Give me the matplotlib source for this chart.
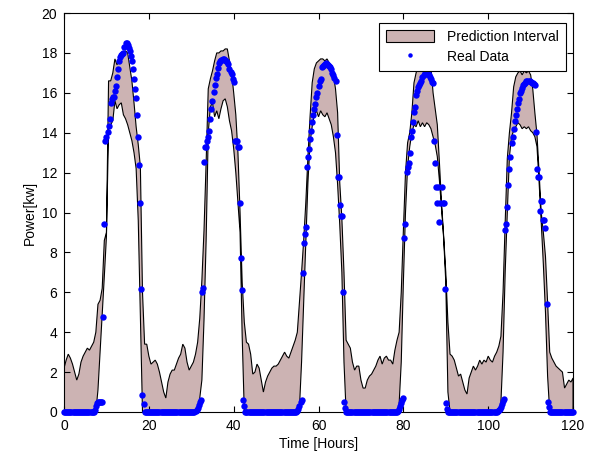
import numpy as np
import matplotlib
matplotlib.use("Agg")
import matplotlib.pyplot as plt

plt.rcParams['font.family'] = ['Liberation Sans', 'DejaVu Sans']
plt.rcParams['font.size'] = 10

# prediction interval, every half hour from 0 to 120 h
bound_hours = np.arange(0, 120.5, 0.5)
upper = [
    2.2, 2.6, 2.9, 2.7, 2.4, 2.0, 1.6, 1.9, 2.5, 2.8,
    3.0, 3.2, 3.1, 3.3, 3.5, 4.0, 5.4, 5.6, 6.2, 8.6,
    9.0, 16.6, 16.6, 17.0, 17.7, 17.4, 17.8, 17.9, 18.0, 18.1,
    18.0, 17.3, 16.6, 15.5, 14.3, 13.4, 12.3, 6.0, 3.4, 3.4,
    2.8, 2.4, 2.5, 2.6, 2.4, 2.0, 1.5, 1.0, 0.7, 1.5,
    1.9, 2.1, 2.1, 2.4, 2.7, 2.9, 3.4, 3.2, 2.5, 2.1,
    2.3, 2.5, 2.9, 3.5, 4.7, 6.6, 9.1, 12.5, 16.2, 16.7,
    17.1, 17.6, 18.0, 18.0, 18.1, 18.1, 18.2, 18.2, 17.6, 17.0,
    16.0, 14.9, 13.0, 10.0, 6.5, 4.5, 3.5, 3.4, 2.9, 1.9,
    2.0, 2.4, 2.2, 1.6, 1.0, 1.5, 1.8, 2.0, 2.2, 2.3,
    2.3, 2.4, 2.6, 2.8, 3.0, 2.8, 2.7, 3.0, 3.3, 3.6,
    4.0, 5.5, 7.0, 8.6, 10.5, 12.8, 14.8, 16.5, 17.2, 17.5,
    17.6, 17.7, 17.7, 17.6, 17.7, 17.5, 17.2, 16.9, 16.2, 15.0,
    11.5, 9.7, 7.0, 3.6, 3.4, 3.2, 2.5, 2.1, 2.3, 2.3,
    1.6, 1.2, 1.2, 1.6, 1.8, 1.9, 2.1, 2.3, 2.6, 2.8,
    2.4, 2.7, 2.8, 2.6, 2.6, 2.4, 3.1, 3.6, 4.0, 6.0,
    9.1, 12.0, 13.5, 14.0, 15.0, 16.5, 17.0, 17.3, 17.4, 17.5,
    17.7, 17.8, 17.6, 17.3, 16.0, 15.2, 14.4, 12.5, 10.5, 8.8,
    7.0, 4.5, 2.9, 2.8, 2.6, 2.2, 1.8, 1.9, 1.5, 1.1,
    0.9, 1.7, 2.0, 2.3, 2.1, 2.3, 2.6, 2.4, 2.6, 2.5,
    2.8, 2.6, 2.5, 2.8, 3.0, 3.3, 3.8, 6.0, 9.5, 12.7,
    14.0, 15.0, 16.3, 16.8, 17.0, 17.1, 16.9, 17.1, 17.0, 17.1,
    16.9, 16.2, 15.0, 13.9, 12.0, 10.0, 9.0, 7.8, 5.5, 3.0,
    2.7, 2.5, 2.3, 2.2, 2.1, 2.0, 1.2, 1.4, 1.6, 1.5,
    1.7]
lower = [
    0, 0, 0, 0, 0, 0, 0, 0, 0, 0,
    0, 0, 0, 0, 0, 0, 1.1, 3.0, 4.9, 6.8,
    8.8, 14.2, 14.4, 14.6, 15.6, 15.2, 15.4, 15.5, 14.9, 14.7,
    14.4, 14.0, 13.6, 13.0, 12.2, 9.6, 4.8, 0, 0, 0,
    0, 0, 0, 0, 0, 0, 0, 0, 0, 0,
    0, 0, 0, 0, 0, 0, 0, 0, 0, 0,
    0, 0, 0, 0, 0.7, 1.6, 4.6, 8.6, 14.0, 15.3,
    15.5, 14.8, 15.1, 14.7, 15.2, 15.6, 15.7, 15.3, 14.6, 14.1,
    13.2, 12.0, 10.5, 9.0, 3.8, 0, 0, 0, 0, 0,
    0, 0, 0, 0, 0, 0, 0, 0, 0, 0,
    0, 0, 0, 0, 0, 0, 0, 0, 0, 0,
    0, 0.2, 2.5, 5.5, 8.5, 11.5, 13.5, 14.3, 14.9, 15.1,
    14.8, 15.1, 14.9, 14.8, 15.0, 14.7, 14.4, 13.8, 13.0, 11.4,
    9.4, 7.0, 2.5, 0, 0, 0, 0, 0, 0, 0,
    0, 0, 0, 0, 0, 0, 0, 0, 0, 0,
    0, 0, 0, 0, 0, 0, 0, 0, 0.4, 2.5,
    6.5, 10.0, 12.3, 13.3, 14.0, 14.4, 14.3, 14.6, 14.3, 14.5,
    14.3, 14.5, 14.4, 14.2, 13.8, 13.4, 12.8, 11.6, 10.2, 8.7,
    6.5, 1.0, 0, 0, 0, 0, 0, 0, 0, 0,
    0, 0, 0, 0, 0, 0, 0, 0, 0, 0,
    0, 0, 0, 0, 0, 0, 0.5, 3.0, 7.0, 10.0,
    12.8, 13.8, 14.1, 14.3, 14.5, 14.4, 14.2, 14.3, 14.2, 14.3,
    14.1, 14.0, 13.8, 13.3, 11.5, 9.5, 7.4, 5.0, 1.8, 0,
    0, 0, 0, 0, 0, 0, 0, 0, 0, 0,
    0]

# measured power every 15 min; zero at night, daytime values below
real_hours = np.arange(0, 120.01, 0.25)
day_start = [7.0, 30.5, 54.5, 78.5, 102.0]
day1 = [0.0, 0.1, 0.3, 0.45, 0.5, 0.5, 0.5, 0.5, 0.5, 4.75, 9.4, 13.6, 13.8,
        14.05, 14.35, 14.7, 15.5, 15.7, 15.8, 15.8, 16.1, 16.35, 16.8, 17.2,
        17.6, 17.8, 17.9, 17.95, 18.0, 18.3, 18.5, 18.5, 18.4, 18.25, 18.1,
        17.85, 17.6, 17.2, 16.7, 16.2, 15.75, 14.9, 13.8, 12.4, 10.5, 6.15,
        0.85, 0.4, 0.0]
day2 = [0.0, 0.02, 0.05, 0.1, 0.2, 0.35, 0.5, 0.6, 6.0, 6.2, 12.55, 13.3,
        13.3, 13.6, 13.8, 14.1, 14.7, 15.2, 15.6, 16.06, 16.4, 16.75, 16.95,
        17.25, 17.5, 17.6, 17.65, 17.65, 17.7, 17.7, 17.65, 17.6, 17.55, 17.45,
        17.2, 17.05, 16.95, 16.7, 16.55, 13.6, 13.6, 13.6, 13.3, 13.3, 10.46,
        7.7, 6.1, 0.6, 0.3, 0.0]
day3 = [0.0, 0.02, 0.05, 0.15, 0.3, 0.5, 0.6, 6.95, 8.45, 8.9, 9.25, 12.3,
        12.8, 13.2, 13.7, 14.1, 14.55, 14.9, 15.2, 15.45, 15.8, 16.0, 16.35,
        16.6, 16.7, 17.3, 17.35, 17.4, 17.45, 17.5, 17.45, 17.4, 17.35, 17.3,
        17.2, 17.0, 16.9, 16.75, 16.6, 13.9, 11.8, 11.8, 10.4, 9.8, 9.8, 6.0,
        0.5, 0.2, 0.0]
day4 = [0.0, 0.05, 0.15, 0.3, 0.45, 0.6, 0.7, 8.7, 9.4, 12.05, 12.3, 12.5,
        13.0, 13.8, 14.1, 14.55, 15.05, 15.3, 15.9, 16.1, 16.3, 16.4, 16.5,
        16.6, 16.8, 16.9, 17.0, 17.1, 17.1, 17.0, 16.9, 16.8, 16.7, 16.55,
        16.5, 13.6, 12.5, 11.3, 10.5, 11.3, 9.5, 10.5, 11.3, 10.5, 10.5, 6.15,
        0.45, 0.15, 0.0]
day5 = [0.0, 0.05, 0.1, 0.15, 0.25, 0.4, 0.55, 0.65, 9.1, 9.4, 10.3, 11.4,
        12.2, 12.8, 13.5, 13.8, 14.2, 14.6, 14.9, 15.2, 15.5, 15.7, 16.0, 16.1,
        16.25, 16.4, 16.45, 16.5, 16.6, 16.6, 16.6, 16.6, 16.55, 16.5, 16.5,
        16.45, 16.4, 14.05, 12.2, 11.8, 11.8, 10.1, 10.6, 10.6, 9.6, 9.6, 9.2,
        5.4, 0.52, 0.27, 0.0]

real_power = np.zeros(len(real_hours))
for start, vals in zip(day_start, [day1, day2, day3, day4, day5]):
    i0 = int(round(start / 0.25))
    real_power[i0:i0 + len(vals)] = vals

fig = plt.figure(figsize=(5.95, 4.57), dpi=100)
ax = fig.add_axes([0.1076, 0.0985, 0.8555, 0.873])

poly_x = np.concatenate([bound_hours, bound_hours[::-1]])
poly_y = np.concatenate([upper, lower[::-1]])
ax.fill(poly_x, poly_y, facecolor='#ccb3b3', edgecolor='black',
        linewidth=0.8, label='Prediction Interval')
ax.plot(real_hours, real_power, 'o', color='#0000ff', markersize=4.6,
        markeredgewidth=0, clip_on=False, label='Real Data', zorder=3)

ax.set_xlim(0, 120)
ax.set_ylim(0, 20)
ax.set_xticks(range(0, 121, 20))
ax.set_yticks(range(0, 21, 2))
ax.tick_params(direction='in', top=True, right=True, length=4, width=0.8,
               labelsize=10, pad=5)
for s in ax.spines.values():
    s.set_linewidth(0.8)
ax.set_xlabel('Time [Hours]', labelpad=3)
ax.set_ylabel('Power[kw]', labelpad=3)

leg = ax.legend(loc='upper right', bbox_to_anchor=(0.9857, 0.9757),
                borderaxespad=0, fancybox=False, framealpha=1,
                edgecolor='black', handlelength=3.5, handleheight=1.0,
                markerscale=0.7, borderpad=0.5, labelspacing=0.45,
                handletextpad=0.9, fontsize=10)
leg.get_frame().set_linewidth(0.8)

fig.savefig('out.png', dpi=100)
